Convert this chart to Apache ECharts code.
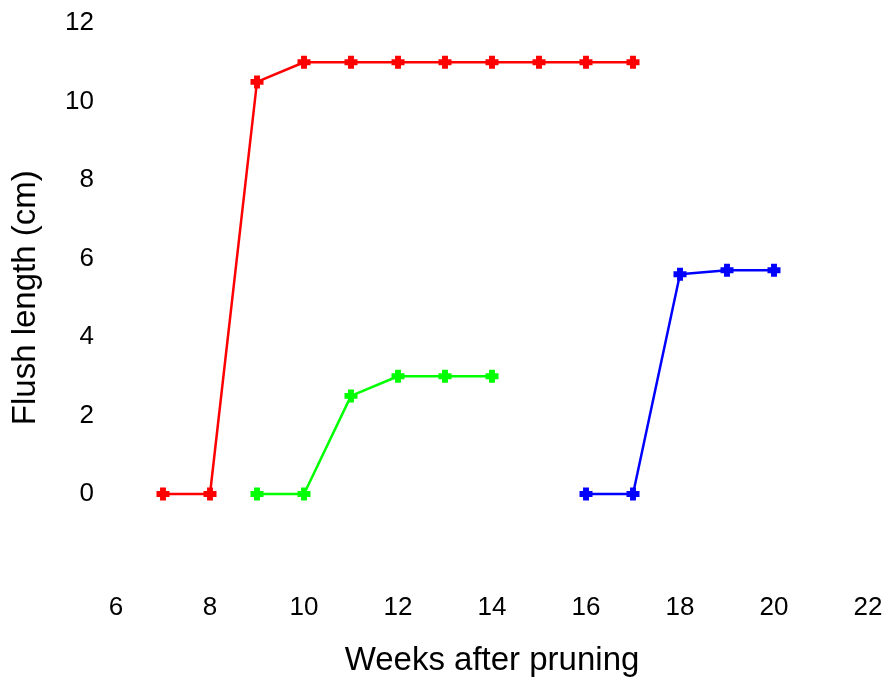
<!DOCTYPE html>
<html><head><meta charset="utf-8">
<script src="https://cdn.jsdelivr.net/npm/echarts@6/dist/echarts.min.js"></script>
<style>html,body{margin:0;padding:0;background:#fff}#c{width:888px;height:679px}</style>
</head><body><div id="c"></div>
<script>
const weeksRed = [7, 8, 9, 10, 11, 12, 13, 14, 15, 16, 17];
const valuesRed = [0, 0, 10.5, 11, 11, 11, 11, 11, 11, 11, 11];
const weeksGreen = [9, 10, 11, 12, 13, 14];
const valuesGreen = [0, 0, 2.5, 3, 3, 3];
const weeksBlue = [16, 17, 18, 19, 20];
const valuesBlue = [0, 0, 5.6, 5.7, 5.7];
const xTitle = 'Weeks after pruning';
const yTitle = 'Flush length (cm)';

const plus = 'path://M3,0H8V3H11V8H8V11H3V8H0V3H3Z';
function mk(xs, ys, color) {
  return {
    type: 'line', data: xs.map((x, i) => [x, ys[i]]),
    symbol: plus, symbolSize: 13, showAllSymbol: true,
    lineStyle: { color: color, width: 2.5 },
    itemStyle: { color: color },
    animation: false
  };
}
const chart = echarts.init(document.getElementById('c'));
chart.setOption({
  backgroundColor: '#fff',
  grid: { left: 116, right: 20, top: 23, bottom: 106.5, outerBoundsMode: 'none', containLabel: false },
  xAxis: {
    type: 'value', min: 6, max: 22, interval: 2,
    axisLine: { show: false }, axisTick: { show: false }, splitLine: { show: false },
    axisLabel: { fontFamily: 'Liberation Sans, Arial', fontSize: 26, color: '#000', margin: 22 },
    name: xTitle, nameLocation: 'middle', nameGap: 72,
    nameTextStyle: { fontFamily: 'Liberation Sans, Arial', fontSize: 33, color: '#000' }
  },
  yAxis: {
    type: 'value', min: -2, max: 12, interval: 2,
    axisLine: { show: false }, axisTick: { show: false }, splitLine: { show: false },
    axisLabel: { fontFamily: 'Liberation Sans, Arial', fontSize: 26, color: '#000', margin: 22,
      formatter: v => v < 0 ? '' : String(v) },
    name: yTitle, nameLocation: 'middle', nameGap: 74, nameRotate: 90,
    nameTextStyle: { fontFamily: 'Liberation Sans, Arial', fontSize: 33, color: '#000' }
  },
  series: [mk(weeksRed, valuesRed, '#ff0000'), mk(weeksGreen, valuesGreen, '#00ff00'), mk(weeksBlue, valuesBlue, '#0000ff')]
});
</script></body></html>
